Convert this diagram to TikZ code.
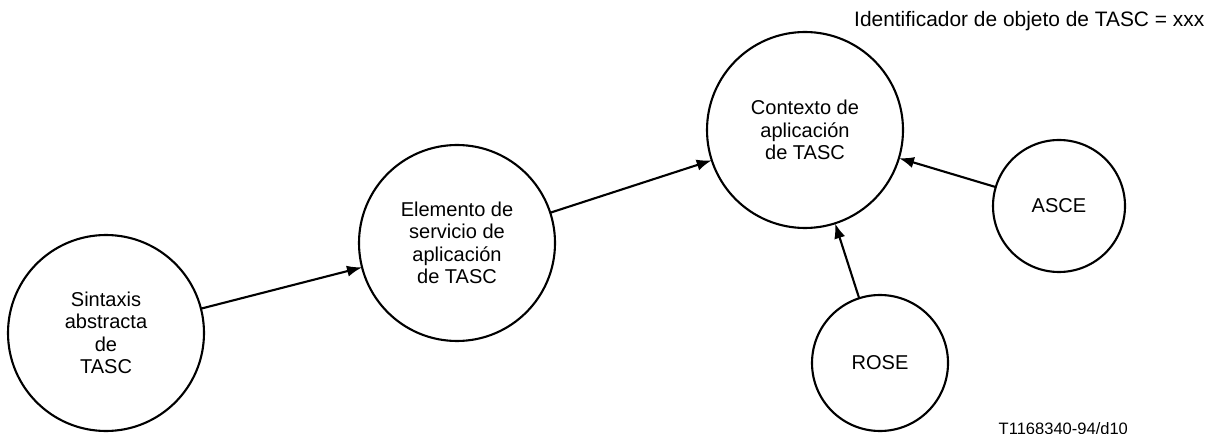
\documentclass[tikz,border=0pt]{standalone}
\usepackage{fontspec}
\setmainfont{Liberation Sans}
\usetikzlibrary{arrows.meta}

\begin{document}
\begin{tikzpicture}[
  every node/.style={font=\fontsize{5.7pt}{6.4pt}\selectfont},
  bigcirc/.style={circle, draw, line width=0.6pt, minimum size=1.96cm, inner sep=0pt, outer sep=0pt, align=center},
  smallcirc/.style={circle, draw, line width=0.6pt, minimum size=1.32cm, inner sep=0pt, outer sep=0pt, align=center},
  arr/.style={-{Latex[length=4.3pt,width=3.2pt]}, line width=0.6pt}
]
\useasboundingbox (0,0) rectangle (12.10,4.33);

% Circles
\node[bigcirc] (sintaxis) at (1.06,1.00) {Sintaxis\\abstracta\\de\\TASC};
\node[bigcirc] (elemento) at (4.57,1.90) {Elemento de\\servicio de\\aplicaci\'on\\de TASC};
\node[bigcirc] (contexto) at (8.05,3.03) {Contexto de\\aplicaci\'on\\de TASC};
\node[smallcirc] (asce) at (10.59,2.27) {ASCE};
\node[smallcirc, minimum size=1.36cm] (rose) at (8.80,0.70) {ROSE};

% Labels
\node[anchor=east, inner sep=0pt, font=\fontsize{5.95pt}{6.6pt}\selectfont] (oid) at (12.05,4.12) {Identificador de objeto de TASC = xxx};
\node[anchor=base west, inner sep=0pt, font=\fontsize{4.7pt}{5.5pt}\selectfont] (ref) at (9.98,-0.01) {T1168340-94/d10};

% Arrows
\draw[arr] (sintaxis) -- (elemento);
\draw[arr] (elemento) -- (contexto);
\draw[arr] (asce) -- (contexto);
\draw[arr] (rose) -- (contexto);
\end{tikzpicture}
\end{document}
